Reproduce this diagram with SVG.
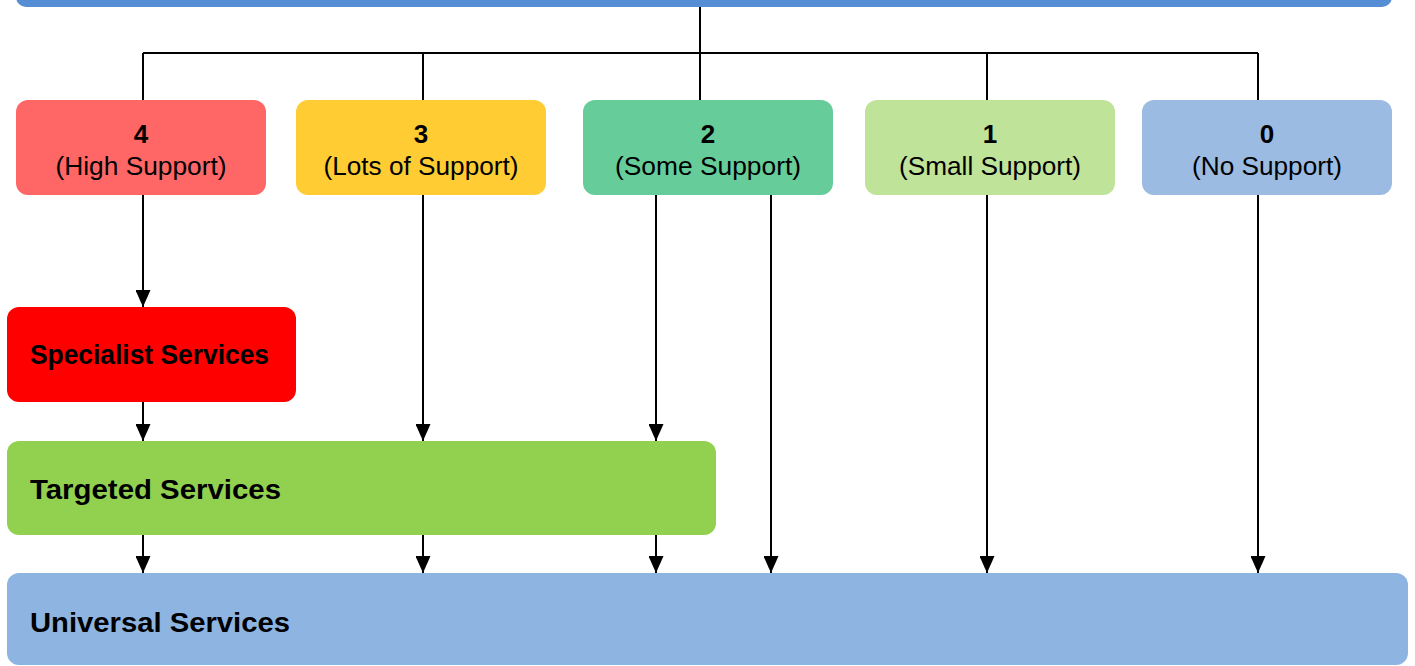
<svg xmlns="http://www.w3.org/2000/svg" width="1415" height="666" viewBox="0 0 1415 666">
<defs>
<marker id="arr" viewBox="0 0 17 15" refX="17" refY="7.5" markerWidth="17" markerHeight="15" markerUnits="userSpaceOnUse" orient="auto">
<path d="M0,0 L17,7.5 L0,15 Z" fill="#000"/>
</marker>
<style>
.lvl text{font-family:"Liberation Sans",Arial,sans-serif;fill:#000;text-anchor:middle}
.num{font-size:26px;font-weight:bold}
.sub{font-size:25px}
.svc{font-family:"Liberation Sans",Arial,sans-serif;font-size:27px;font-weight:bold;fill:#000}
.ln{stroke:#000;stroke-width:2;fill:none}
.ar{stroke:#000;stroke-width:2;fill:none;marker-end:url(#arr)}
</style>
</defs>
<rect width="1415" height="666" fill="#fff"/>
<g id="top"><rect x="16" y="-40" width="1376" height="47" rx="10" fill="#558ED5"/></g>
<g id="connectors">
<path class="ln" d="M700,7 V100 M143,53 H1258 M143,53 V100 M423,53 V100 M987,53 V100 M1258,53 V100"/>
<path class="ar" d="M143,195 V307"/>
<path class="ar" d="M423,195 V441"/>
<path class="ar" d="M656,195 V441"/>
<path class="ar" d="M771,195 V573"/>
<path class="ar" d="M987,195 V573"/>
<path class="ar" d="M1258,195 V573"/>
<path class="ar" d="M143,402 V441"/>
<path class="ar" d="M143,535 V573"/>
<path class="ar" d="M423,535 V573"/>
<path class="ar" d="M656,535 V573"/>
</g>
<g id="level4" class="lvl"><rect x="16" y="100" width="250" height="95" rx="12" fill="#FF6666"/><text class="num" x="141" y="143">4</text><text class="sub" x="141" y="175" textLength="171" lengthAdjust="spacingAndGlyphs">(High Support)</text></g>
<g id="level3" class="lvl"><rect x="296" y="100" width="250" height="95" rx="12" fill="#FFCC33"/><text class="num" x="421" y="143">3</text><text class="sub" x="421" y="175" textLength="195" lengthAdjust="spacingAndGlyphs">(Lots of Support)</text></g>
<g id="level2" class="lvl"><rect x="583" y="100" width="250" height="95" rx="12" fill="#66CC99"/><text class="num" x="708" y="143">2</text><text class="sub" x="708" y="175" textLength="186" lengthAdjust="spacingAndGlyphs">(Some Support)</text></g>
<g id="level1" class="lvl"><rect x="865" y="100" width="250" height="95" rx="12" fill="#C0E39A"/><text class="num" x="990" y="143">1</text><text class="sub" x="990" y="175" textLength="182" lengthAdjust="spacingAndGlyphs">(Small Support)</text></g>
<g id="level0" class="lvl"><rect x="1142" y="100" width="250" height="95" rx="12" fill="#9BBBE3"/><text class="num" x="1267" y="143">0</text><text class="sub" x="1267" y="175" textLength="150" lengthAdjust="spacingAndGlyphs">(No Support)</text></g>
<g id="specialist"><rect x="7" y="307" width="289" height="95" rx="12" fill="#FF0000"/><text class="svc" x="30" y="364" textLength="239" lengthAdjust="spacingAndGlyphs">Specialist Services</text></g>
<g id="targeted"><rect x="7" y="441" width="709" height="94" rx="12" fill="#92D050"/><text class="svc" x="30" y="499" textLength="251" lengthAdjust="spacingAndGlyphs">Targeted Services</text></g>
<g id="universal"><rect x="7" y="573" width="1401" height="92" rx="12" fill="#8EB4E2"/><text class="svc" x="30" y="632" textLength="260" lengthAdjust="spacingAndGlyphs">Universal Services</text></g>
</svg>
